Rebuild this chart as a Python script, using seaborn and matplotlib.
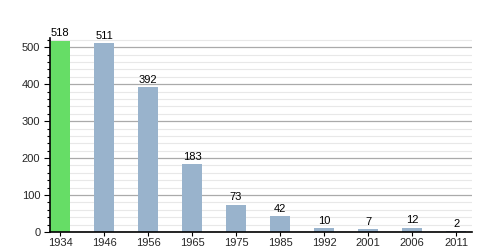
import matplotlib
matplotlib.use("Agg")
import matplotlib.pyplot as plt
import seaborn as sns
import pandas as pd
from matplotlib.ticker import MultipleLocator

years = ["1934", "1946", "1956", "1965", "1975", "1985", "1992", "2001", "2006", "2011"]
population = [518, 511, 392, 183, 73, 42, 10, 7, 12, 2]
highlight = ["1934"]

df = pd.DataFrame({"year": years, "pop": population})
palette = {y: ("#66dd66" if y in highlight else "#99b3cc") for y in years}

sns.set_theme(style="white")
plt.rcParams["font.family"] = ["Liberation Sans", "DejaVu Sans"]

fig = plt.figure(figsize=(5, 2.5), dpi=100)
ax = fig.add_axes([0.1, 0.072, 0.844, 0.776])
sns.barplot(data=df, x="year", y="pop", hue="year", palette=palette,
            width=0.45, legend=False, ax=ax, saturation=1, linewidth=0)

ax.set_xlim(-0.227, 9.36)
ax.set_ylim(0, 525)
ax.yaxis.set_major_locator(MultipleLocator(100))
ax.yaxis.set_minor_locator(MultipleLocator(20))
ax.set_axisbelow(True)
ax.grid(which="major", axis="y", color="#aaaaaa", linewidth=0.9)
ax.grid(which="minor", axis="y", color="#e8e8e8", linewidth=0.8)
ax.grid(False, axis="x")
for s in ["top", "right"]:
    ax.spines[s].set_visible(False)
for s in ["left", "bottom"]:
    ax.spines[s].set_color("black")
    ax.spines[s].set_linewidth(1.2)
ax.tick_params(axis="y", which="major", left=True, length=4, width=0.8, color="black", labelsize=8, pad=3)
ax.tick_params(axis="y", which="minor", left=True, length=2, width=0.8, color="black")
ax.tick_params(axis="x", bottom=True, length=3, width=0.8, color="black", labelsize=8, pad=1)
ax.set_xlabel("")
ax.set_ylabel("")

for i, v in enumerate(population):
    ax.text(i, v + 7, str(v), ha="center", va="bottom", fontsize=8, color="black")

fig.savefig("out.png", dpi=100)
